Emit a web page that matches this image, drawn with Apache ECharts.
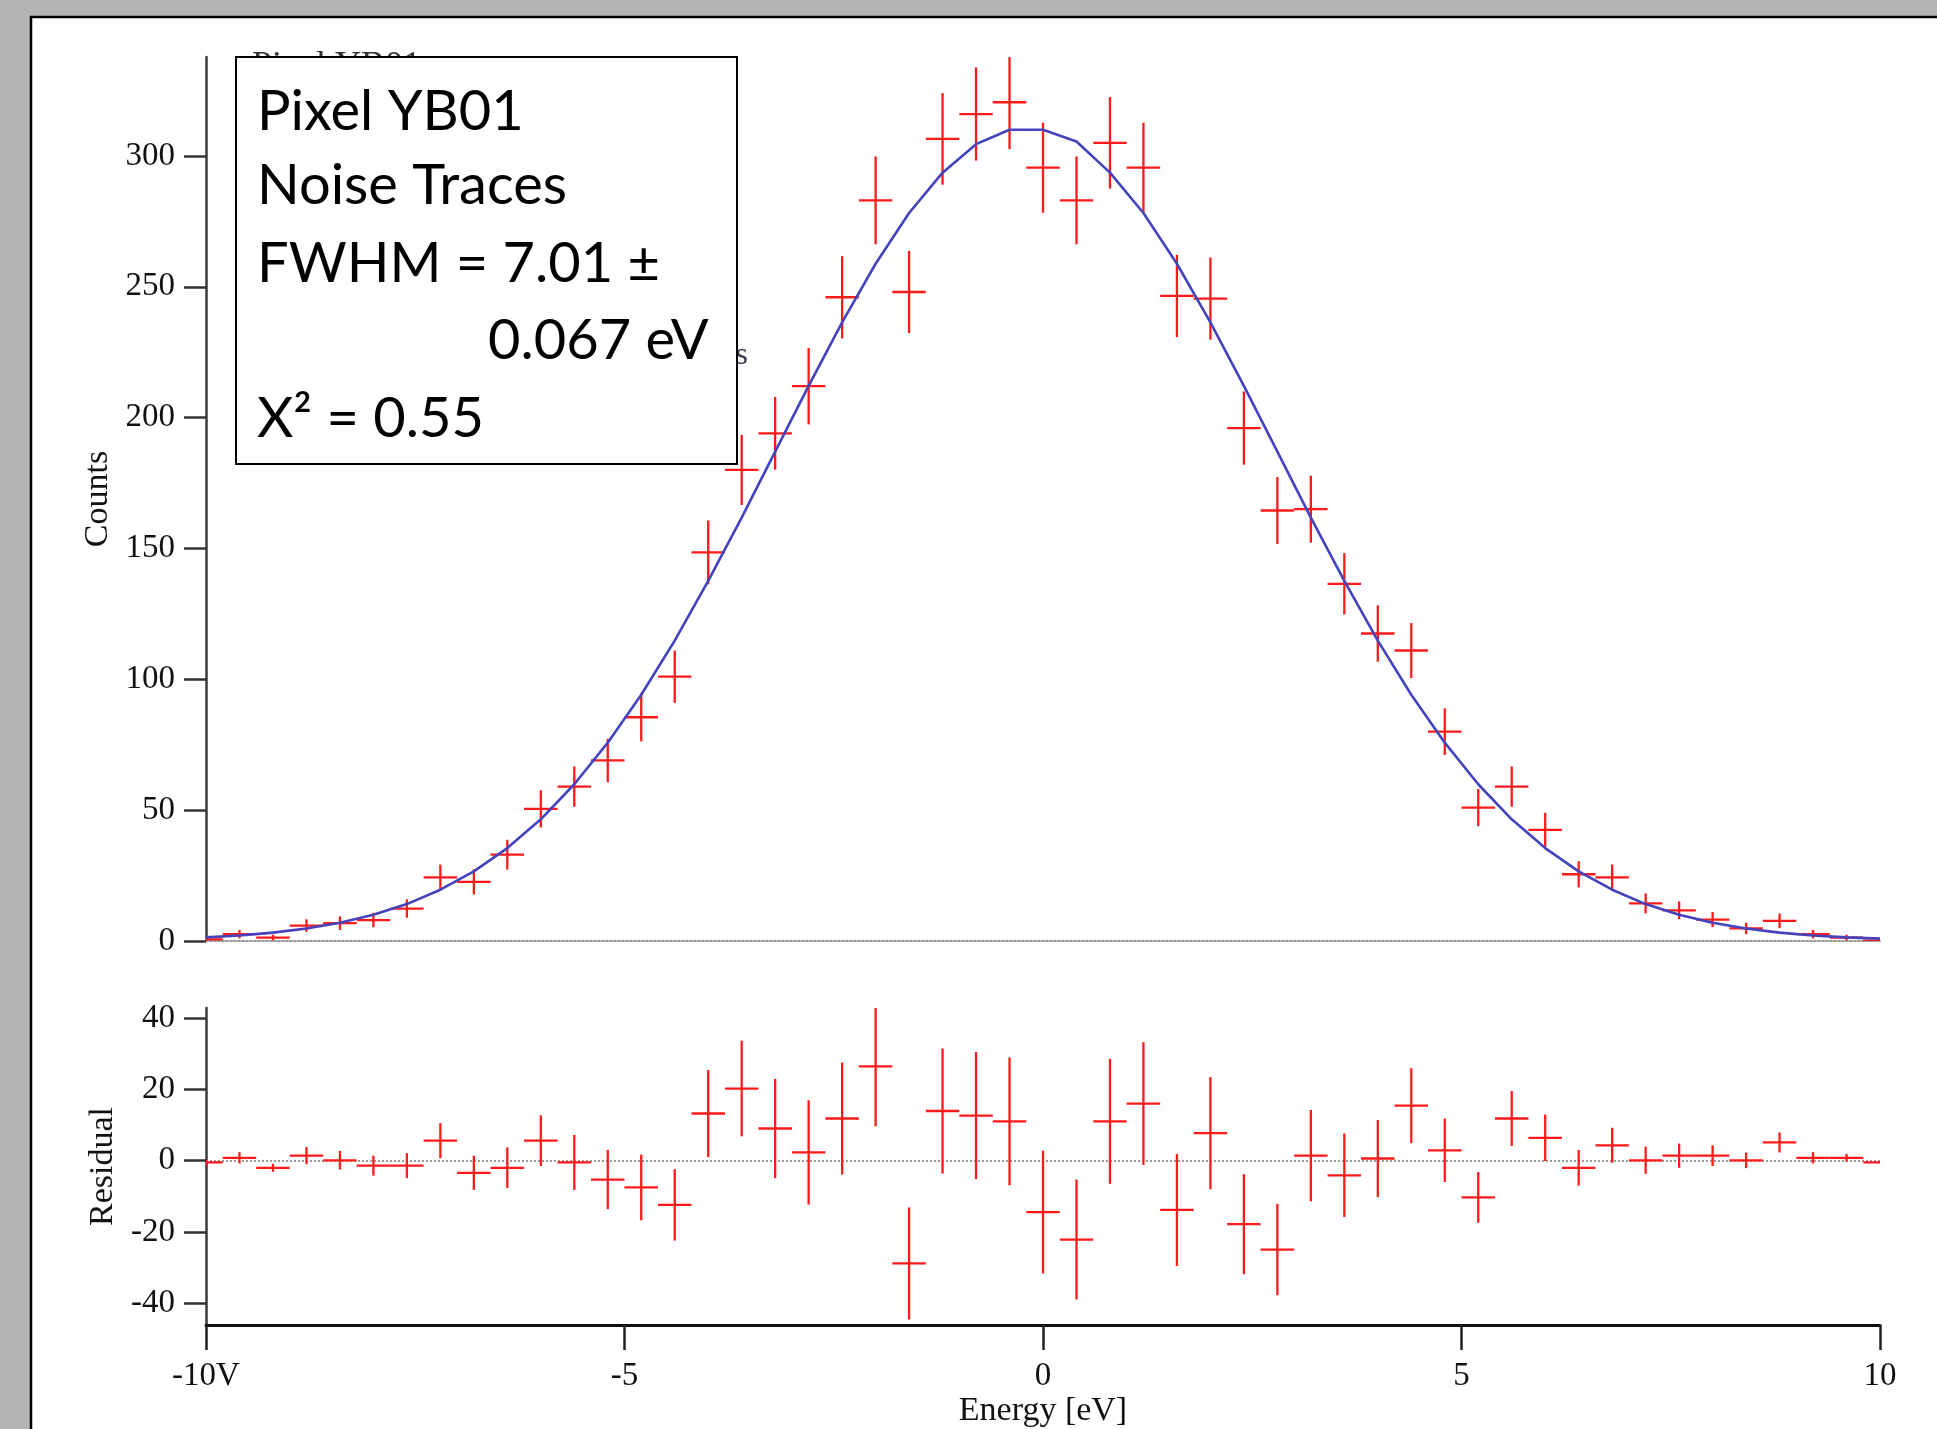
<!DOCTYPE html>
<html>
<head>
<meta charset="utf-8">
<script src="https://cdn.jsdelivr.net/npm/echarts@6/dist/echarts.min.js"></script>
<style>
  html, body { margin: 0; padding: 0; background: #b4b4b4; }
  #chart { width: 1937px; height: 1429px; }
</style>
</head>
<body>
<div id="chart"></div>
<script>
// ---- Data ----
const energy = [-10, -9.6, -9.2, -8.8, -8.4, -8.0, -7.6, -7.2, -6.8, -6.4, -6.0, -5.6, -5.2, -4.8, -4.4, -4.0, -3.6, -3.2, -2.8, -2.4, -2.0, -1.6, -1.2, -0.8, -0.4, 0.0, 0.4, 0.8, 1.2, 1.6, 2.0, 2.4, 2.8, 3.2, 3.6, 4.0, 4.4, 4.8, 5.2, 5.6, 6.0, 6.4, 6.8, 7.2, 7.6, 8.0, 8.4, 8.8, 9.2, 9.6, 10.0];

const counts = [0.6, 2.6, 1.3, 5.9, 6.8, 8.0, 12.4, 24.3, 22.6, 33.0, 50.5, 59.0, 69.0, 85.5, 101.0, 148.5, 180.0, 194.0, 212.0, 246.0, 283.0, 248.0, 306.5, 316.0, 320.5, 295.5, 283.0, 305.0, 295.5, 246.5, 245.5, 196.0, 164.5, 165.0, 136.5, 117.5, 111.0, 80.0, 51.0, 59.0, 42.5, 25.5, 24.3, 14.4, 11.7, 8.2, 4.8, 7.7, 2.6, 1.3, 0.1];

const countErrors = [0.8, 1.6, 1.1, 2.4, 2.6, 2.8, 3.5, 4.9, 4.8, 5.7, 7.1, 7.7, 8.3, 9.2, 10.0, 12.2, 13.4, 13.9, 14.6, 15.7, 16.8, 15.7, 17.5, 17.8, 17.9, 17.2, 16.8, 17.5, 17.2, 15.7, 15.7, 14.0, 12.8, 12.8, 11.7, 10.8, 10.5, 8.9, 7.1, 7.7, 6.5, 5.0, 4.9, 3.8, 3.4, 2.9, 2.2, 2.8, 1.6, 1.1, 0.3];

const fitCounts = [1.4, 2.1, 3.2, 4.8, 7.0, 10.0, 14.1, 19.6, 26.6, 35.5, 46.5, 59.9, 75.8, 94.1, 114.8, 137.6, 161.8, 187.0, 212.1, 236.4, 258.8, 278.2, 293.6, 304.5, 310.0, 310.0, 305.5, 293.6, 278.2, 258.8, 236.4, 212.1, 187.0, 161.8, 137.6, 114.8, 94.1, 75.8, 59.9, 46.5, 35.5, 26.6, 19.6, 14.1, 10.0, 7.0, 4.8, 3.2, 2.1, 1.4, 0.9];

const residuals = [-0.5, 0.8, -2.0, 1.4, 0.1, -1.4, -1.4, 5.6, -3.4, -2.0, 5.6, -0.5, -5.3, -7.5, -12.4, 13.2, 20.2, 9.0, 2.3, 11.8, 26.4, -28.8, 13.9, 12.6, 11.0, -14.4, -22.1, 11.0, 16.0, -13.8, 7.7, -17.8, -24.9, 1.4, -4.1, 0.6, 15.4, 2.9, -10.3, 11.8, 6.4, -2.0, 4.3, 0.1, 1.4, 1.4, 0.1, 5.1, 0.8, 0.8, -0.5];

const xTickValues = [-10, -5, 0, 5, 10];
const xTickLabels = ['-10V', '-5', '0', '5', '10'];
const countTickValues = [0, 50, 100, 150, 200, 250, 300];
const residualTickValues = [-40, -20, 0, 20, 40];

const infoLines = ['Pixel YB01', 'Noise Traces', 'FWHM = 7.01 \u00b1', '0.067 eV', 'X\u00b2 = 0.55'];

const binHalfWidth = 0.2;

// ---- Build series data ----
const countPoints = energy.map((x, i) => [x, counts[i], countErrors[i]]);
const residualPoints = energy.map((x, i) => [x, residuals[i], countErrors[i]]);
const fitPoints = energy.map((x, i) => [x, fitCounts[i]]);

const RED = '#ff1a1a';
function crossItem(params, api) {
  const x = api.value(0), y = api.value(1), e = api.value(2);
  const top = api.coord([x, y + e]);
  const bot = api.coord([x, y - e]);
  const left = api.coord([x - binHalfWidth, y]);
  const right = api.coord([x + binHalfWidth, y]);
  const st = { stroke: RED, lineWidth: 2.3 };
  return {
    type: 'group',
    children: [
      { type: 'line', shape: { x1: top[0], y1: top[1], x2: bot[0], y2: bot[1] }, style: st },
      { type: 'line', shape: { x1: left[0], y1: left[1], x2: right[0], y2: right[1] }, style: st }
    ]
  };
}

const SERIF = '"Liberation Serif", "Times New Roman", serif';
const tickLabelStyle = { fontFamily: SERIF, fontSize: 33, color: '#111' };
const axisNameStyle = { fontFamily: SERIF, fontSize: 34, color: '#111' };

const chart = echarts.init(document.getElementById('chart'), null, { renderer: 'canvas' });

const option = {
  backgroundColor: '#b4b4b4',
  animation: false,
  grid: [
    { left: 206, right: 57, top: 57, height: 884, containLabel: false },
    { left: 206, right: 57, top: 1008, height: 322, containLabel: false }
  ],
  xAxis: [
    {
      type: 'value', gridIndex: 0, min: -10, max: 10,
      axisLine: { show: true, onZero: false, lineStyle: { color: '#999', width: 2, type: [2, 2] } },
      axisTick: { show: false }, axisLabel: { show: false }, splitLine: { show: false }
    },
    {
      type: 'value', gridIndex: 1, min: -10, max: 10,
      axisLine: { show: true, onZero: false, lineStyle: { color: '#111', width: 3 } },
      axisTick: { show: true, customValues: xTickValues, length: 25, lineStyle: { color: '#222', width: 2.5 } },
      axisLabel: {
        show: true, customValues: xTickValues, margin: 35,
        formatter: function (v) { const k = xTickValues.indexOf(v); return k >= 0 ? xTickLabels[k] : ''; },
        ...tickLabelStyle
      },
      splitLine: { show: false },
      name: 'Energy [eV]', nameLocation: 'middle', nameGap: 64,
      nameTextStyle: axisNameStyle
    }
  ],
  yAxis: [
    {
      type: 'value', gridIndex: 0, min: 0, max: 337.8,
      axisLine: { show: true, onZero: false, lineStyle: { color: '#3a3a3a', width: 2.5 } },
      axisTick: { show: true, customValues: countTickValues, length: 22, lineStyle: { color: '#333', width: 2.5 } },
      axisLabel: { show: true, customValues: countTickValues, margin: 31, ...tickLabelStyle },
      splitLine: { show: false },
      name: 'Counts', nameLocation: 'middle', nameGap: 86, nameRotate: 90,
      nameTextStyle: axisNameStyle
    },
    {
      type: 'value', gridIndex: 1, min: -46.07, max: 42.76,
      axisLine: { show: true, onZero: false, lineStyle: { color: '#3a3a3a', width: 2.5 } },
      axisTick: { show: true, customValues: residualTickValues, length: 22, lineStyle: { color: '#333', width: 2.5 } },
      axisLabel: { show: true, customValues: residualTickValues, margin: 31, ...tickLabelStyle },
      splitLine: { show: false },
      name: 'Residual', nameLocation: 'middle', nameGap: 86, nameRotate: 90,
      nameTextStyle: axisNameStyle
    }
  ],
  series: [
    {
      name: 'Counts', type: 'custom', xAxisIndex: 0, yAxisIndex: 0,
      renderItem: crossItem, data: countPoints, z: 3, clip: true
    },
    {
      name: 'Fit', type: 'line', xAxisIndex: 0, yAxisIndex: 0,
      data: fitPoints, showSymbol: false, symbol: 'none', smooth: false,
      lineStyle: { color: '#4343be', width: 2.6 }, z: 4
    },
    {
      name: 'Residual', type: 'custom', xAxisIndex: 1, yAxisIndex: 1,
      renderItem: crossItem, data: residualPoints, z: 3, clip: true,
      markLine: {
        silent: true, symbol: 'none', label: { show: false },
        lineStyle: { color: '#999', width: 2, type: [2, 2] },
        data: [{ yAxis: 0 }], z: 2
      }
    }
  ],
  graphic: [
    { type: 'rect', z: -5, shape: { x: 31, y: 17, width: 2000, height: 1500 },
      style: { fill: '#ffffff', stroke: '#000000', lineWidth: 2.5 } },
    { type: 'text', z: 50, style: { text: 'Pixel YB01', x: 252, y: 67, verticalAlign: 'middle', align: 'left',
      font: '36px "Liberation Serif", serif', fill: '#333' } },
    { type: 'text', z: 50, style: { text: 'Traces', x: 748, y: 356, verticalAlign: 'middle', align: 'right',
      font: '32px "Liberation Serif", serif', fill: '#3a3a50' } },
    { type: 'rect', z: 100, shape: { x: 236, y: 57, width: 501, height: 407 },
      style: { fill: '#ffffff', stroke: '#000000', lineWidth: 2 } },
    { type: 'text', z: 101, style: { text: infoLines[0], x: 257, y: 112, verticalAlign: 'middle', font: '56px Lato, "Noto Sans", sans-serif', fill: '#000' } },
    { type: 'text', z: 101, style: { text: infoLines[1], x: 257, y: 186, verticalAlign: 'middle', font: '56px Lato, "Noto Sans", sans-serif', fill: '#000' } },
    { type: 'text', z: 101, style: { text: infoLines[2], x: 257, y: 264, verticalAlign: 'middle', font: '56px Lato, "Noto Sans", sans-serif', fill: '#000' } },
    { type: 'text', z: 101, style: { text: infoLines[3], x: 488, y: 341, verticalAlign: 'middle', font: '56px Lato, "Noto Sans", sans-serif', fill: '#000' } },
    { type: 'text', z: 101, style: { text: infoLines[4], x: 257, y: 419, verticalAlign: 'middle', font: '56px Lato, "Noto Sans", sans-serif', fill: '#000' } }
  ]
};

chart.setOption(option);
</script>
</body>
</html>
